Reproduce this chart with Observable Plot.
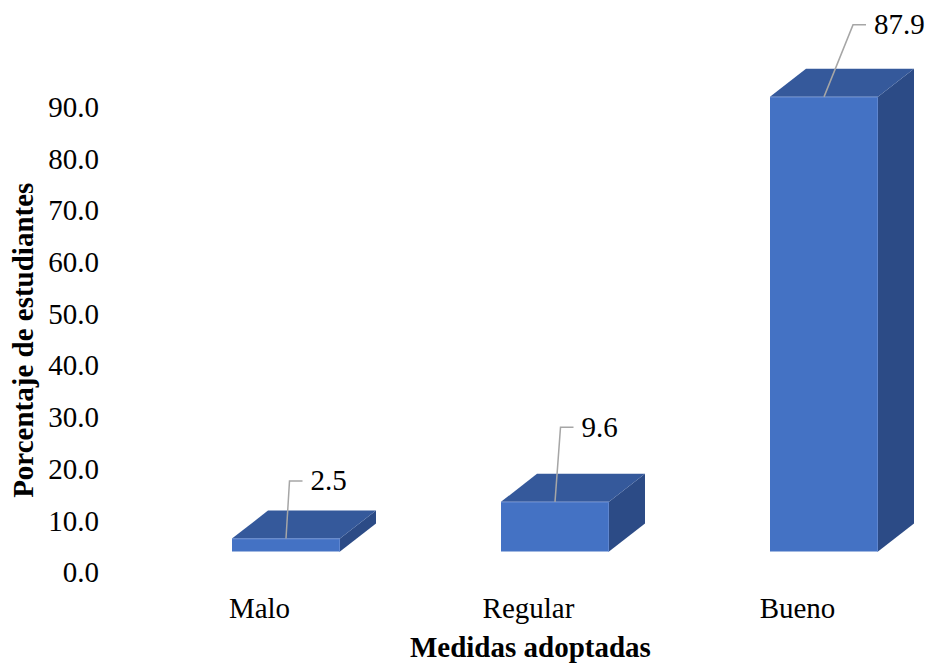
<!DOCTYPE html>
<html>
<head>
<meta charset="utf-8">
<script src="https://cdn.jsdelivr.net/npm/d3@7"></script>
<script src="https://cdn.jsdelivr.net/npm/@observablehq/plot@0.6"></script>
<style>
  html, body { margin: 0; padding: 0; background: #fff; }
  svg text { font-family: "Liberation Serif", serif; font-variant-numeric: normal !important; font-variant: normal !important; }
</style>
</head>
<body>
<div id="chart"></div>
<script>
// ---- data ----
const categories = ["Malo", "Regular", "Bueno"];
const percentages = [2.5, 9.6, 87.9];
const yTicks = [0, 10, 20, 30, 40, 50, 60, 70, 80, 90];
const yDomain = [0, 90];
const xTitle = "Medidas adoptadas";
const yTitle = "Porcentaje de estudiantes";

const rows = categories.map((c, i) => ({cat: c, value: percentages[i]}));

// ---- styling / 3D layout (pixels) ----
const FRONT = "#4472c4", TOP = "#35599b", SIDE = "#2c4b86", EDGE = "#5f86cf", LEADER = "#a6a6a6";
const FRONT_DX = 27, FRONT_DY = 21, DEPTH_X = 36, DEPTH_Y = 28;
const leaderBend = [[3.5, -57.5], [5.5, -74.5], [29, -72]];
const LEADER_H = 13, LABEL_GAP = 8;

function bars3d(index, scales) {
  const {x, y} = scales;
  const bw = x.bandwidth();
  const g = d3.create("svg:g");
  for (const i of index) {
    const d = rows[i];
    const x0 = x(d.cat) + FRONT_DX, x1 = x0 + bw;
    const yb = y(0) - FRONT_DY, yt = y(d.value) - FRONT_DY;
    g.append("polygon")
      .attr("points", [[x1, yb], [x1 + DEPTH_X, yb - DEPTH_Y], [x1 + DEPTH_X, yt - DEPTH_Y], [x1, yt]].join(" "))
      .attr("fill", SIDE);
    g.append("polygon")
      .attr("points", [[x0, yt], [x0 + DEPTH_X, yt - DEPTH_Y], [x1 + DEPTH_X, yt - DEPTH_Y], [x1, yt]].join(" "))
      .attr("fill", TOP);
    g.append("rect")
      .attr("x", x0).attr("y", yt).attr("width", bw).attr("height", yb - yt)
      .attr("fill", FRONT);
    g.append("path")
      .attr("d", `M${x0},${yt + 0.5}L${x1 - 0.5},${yt + 0.5}L${x1 - 0.5},${yb}`)
      .attr("fill", "none").attr("stroke", EDGE).attr("stroke-width", 1);
  }
  return g.node();
}

function leaders(index, scales) {
  const {x, y} = scales;
  const bw = x.bandwidth();
  const g = d3.create("svg:g");
  for (const i of index) {
    const d = rows[i];
    const sx = x(d.cat) + FRONT_DX + bw / 2;
    const sy = y(d.value) - FRONT_DY;
    const [bx, by] = leaderBend[i];
    const mx = sx + bx, my = sy + by;
    g.append("path")
      .attr("d", `M${sx},${sy}L${mx},${my}L${mx + LEADER_H},${my}`)
      .attr("fill", "none").attr("stroke", LEADER).attr("stroke-width", 1.5);
    g.append("text")
      .attr("x", mx + LEADER_H + LABEL_GAP).attr("y", my).attr("dy", "0.32em")
      .attr("text-anchor", "start")
      .attr("fill", "#000")
      .text(d.value.toFixed(1));
  }
  return g.node();
}

const chart = Plot.plot({
  width: 925,
  height: 664,
  marginLeft: 177.5,
  marginRight: 46.75,
  marginTop: 107,
  marginBottom: 91.5,
  style: {
    fontFamily: '"Liberation Serif", serif',
    fontSize: "29px",
    color: "#000",
    background: "#fff",
    overflow: "visible"
  },
  x: {domain: categories, paddingInner: 0.6, paddingOuter: 0.1},
  y: {domain: yDomain},
  marks: [
    Plot.axisY({ticks: yTicks, tickSize: 0, tickPadding: 79, tickFormat: d => d.toFixed(1), label: null, fill: "#000", fontVariant: "normal"}),
    Plot.axisX({tickSize: 0, tickPadding: 24, label: null, fill: "#000"}),
    Plot.barY(rows, {x: "cat", y: "value", render: bars3d}),
    Plot.text(rows, {x: "cat", y: "value", text: d => d.value.toFixed(1), render: leaders}),
    Plot.text([yTitle], {text: d => d, frameAnchor: "left", rotate: -90, dx: -153.8, textAnchor: "middle", lineAnchor: "middle", fontWeight: "bold", fill: "#000"}),
    Plot.text([xTitle], {text: d => d, frameAnchor: "bottom", dx: 2, dy: 75.2, textAnchor: "middle", lineAnchor: "middle", fontWeight: "bold", fill: "#000"})
  ]
});

document.getElementById("chart").appendChild(chart);
</script>
</body>
</html>
